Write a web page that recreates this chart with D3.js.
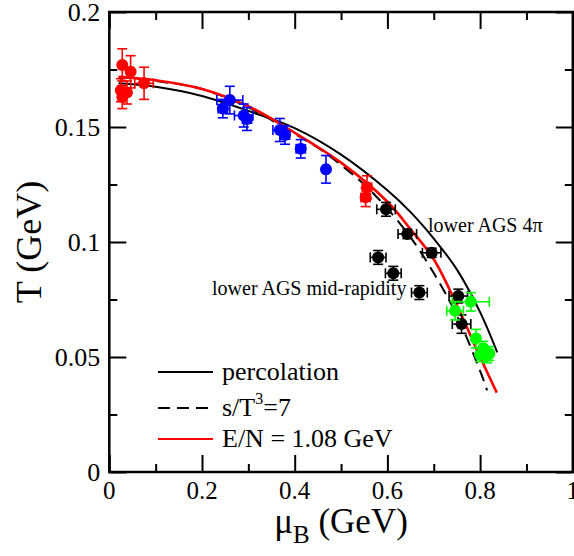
<!DOCTYPE html>
<html><head><meta charset="utf-8">
<script src="https://cdn.jsdelivr.net/npm/d3@7"></script>
<style>
body{margin:0;background:#fff;}
svg text{font-family:"Liberation Serif","Times New Roman",serif;fill:#000;}
</style></head>
<body><svg id="c" width="574" height="556"></svg>
<script>
// ---- data ----
const percolationMu = [0.02,0.1,0.2,0.3,0.4,0.5,0.6,0.65,0.7,0.75,0.8,0.837];
const percolationT  = [0.169,0.1675,0.1635,0.157,0.1495,0.138,0.1225,0.113,0.1015,0.088,0.0695,0.052];
const entropyMu = [0.02,0.1,0.2,0.3,0.4,0.45,0.5,0.55,0.6,0.65,0.7,0.75,0.8,0.815];
const entropyT  = [0.1716,0.17,0.1665,0.1585,0.147,0.141,0.1335,0.125,0.1145,0.102,0.0865,0.068,0.044,0.0355];
const energyMu = [0.02,0.1,0.2,0.3,0.4,0.5,0.6,0.65,0.7,0.75,0.8,0.836];
const energyT  = [0.1718,0.1703,0.1665,0.159,0.1475,0.1345,0.1175,0.1055,0.0925,0.0725,0.05,0.0345];

// points: [mu, T, muErr, TErr]
const redPts = [[0.028,0.177,0.005,0.007],[0.046,0.174,0.005,0.007],[0.025,0.166,0.005,0.005],
  [0.038,0.165,0.005,0.005],[0.028,0.163,0.005,0.005],[0.075,0.169,0.02,0.007],
  [0.556,0.1238,0.01,0.005],[0.553,0.1194,0.01,0.004]];
const bluePts = [[0.26,0.1617,0.028,0.006],[0.245,0.158,0.01,0.004],[0.29,0.155,0.02,0.005],
  [0.297,0.1535,0.01,0.005],[0.368,0.1487,0.015,0.005],[0.379,0.1465,0.01,0.004],
  [0.413,0.1405,0.01,0.004],[0.4675,0.1316,0.005,0.006]];
const blackPts = [[0.597,0.1142,0.02,0.003],[0.643,0.1035,0.02,0.002],[0.6955,0.0953,0.02,0.002],
  [0.753,0.0765,0.02,0.003],[0.76,0.0643,0.02,0.004],[0.58,0.0933,0.017,0.003],
  [0.6127,0.0864,0.017,0.003],[0.669,0.078,0.017,0.003]];
const greenPts = [[0.78,0.074,0.04,0.004],[0.746,0.0701,0.018,0.004],[0.791,0.058,0.005,0.004],
  [0.807,0.0538,0.005,0.003],[0.82,0.0515,0.005,0.003],[0.8,0.051,0.005,0.003],[0.815,0.0505,0.005,0.003]];

const xMajor = [0,0.2,0.4,0.6,0.8,1];
const xMinor = [0.1,0.3,0.5,0.7,0.9];
const yMajor = [0,0.05,0.1,0.15,0.2];
const yMinor = [0.025,0.075,0.125,0.175];
const xLabels = ["0","0.2","0.4","0.6","0.8","1"];
const yLabels = ["0","0.05","0.1","0.15","0.2"];

const legendNames = ["percolation","s/T","E/N = 1.08 GeV"];

// ---- layout ----
const L=109.3, R=572.8, T=12, B=472;
const x = d3.scaleLinear().domain([0,1]).range([L,R]);
const y = d3.scaleLinear().domain([0,0.2]).range([B,T]);
const svg = d3.select("#c");

// curves
const line = d3.line().x(d=>x(d[0])).y(d=>y(d[1])).curve(d3.curveCatmullRom);
const zip=(a,b)=>a.map((v,i)=>[v,b[i]]);
svg.append("path").datum(zip(percolationMu,percolationT)).attr("d",line)
  .attr("fill","none").attr("stroke","#000").attr("stroke-width",2);
svg.append("path").datum(zip(entropyMu,entropyT)).attr("d",line)
  .attr("fill","none").attr("stroke","#000").attr("stroke-width",2).attr("stroke-dasharray","12,7");
svg.append("path").datum(zip(energyMu,energyT)).attr("d",line)
  .attr("fill","none").attr("stroke","#ff0000").attr("stroke-width",2.6);

// points
function drawPts(data,color){
  const g=svg.append("g").attr("stroke",color).attr("fill",color).attr("stroke-width",1.6);
  data.forEach(d=>{
    const cx=x(d[0]), cy=y(d[1]);
    const x0=x(d[0]-d[2]), x1=x(d[0]+d[2]), y0=y(d[1]-d[3]), y1=y(d[1]+d[3]);
    const c=5;
    g.append("line").attr("x1",x0).attr("x2",x1).attr("y1",cy).attr("y2",cy);
    g.append("line").attr("x1",cx).attr("x2",cx).attr("y1",y0).attr("y2",y1);
    g.append("line").attr("x1",x0).attr("x2",x0).attr("y1",cy-c).attr("y2",cy+c);
    g.append("line").attr("x1",x1).attr("x2",x1).attr("y1",cy-c).attr("y2",cy+c);
    g.append("line").attr("x1",cx-c).attr("x2",cx+c).attr("y1",y0).attr("y2",y0);
    g.append("line").attr("x1",cx-c).attr("x2",cx+c).attr("y1",y1).attr("y2",y1);
    g.append("circle").attr("cx",cx).attr("cy",cy).attr("r",6).attr("stroke","none");
  });
}
drawPts(redPts,"#ff0000");
drawPts(bluePts,"#0000ff");
drawPts(blackPts,"#000");
drawPts(greenPts,"#00ff00");

// axes
function ax(gen,tr,vals,size){
  const g=svg.append("g").attr("transform",tr).call(gen.tickValues(vals).tickSize(size).tickFormat("").tickSizeOuter(0));
  g.selectAll("path").remove();
  g.selectAll("line").attr("stroke","#000").attr("stroke-width",2);
}
ax(d3.axisBottom(x),`translate(0,${B})`,xMajor,-17);
ax(d3.axisBottom(x),`translate(0,${B})`,xMinor,-8);
ax(d3.axisTop(x),`translate(0,${T})`,xMajor,-17);
ax(d3.axisTop(x),`translate(0,${T})`,xMinor,-8);
ax(d3.axisLeft(y),`translate(${L},0)`,yMajor,-17);
ax(d3.axisLeft(y),`translate(${L},0)`,yMinor,-8);
ax(d3.axisRight(y),`translate(${R},0)`,yMajor,-17);
ax(d3.axisRight(y),`translate(${R},0)`,yMinor,-8);
svg.append("rect").attr("x",L).attr("y",T).attr("width",R-L).attr("height",B-T)
  .attr("fill","none").attr("stroke","#000").attr("stroke-width",2.5);

// tick labels
svg.selectAll(".xl").data(xMajor).enter().append("text").attr("x",d=>x(d)).attr("y",B+27)
  .attr("text-anchor","middle").attr("font-size",25).text((d,i)=>xLabels[i]);
svg.selectAll(".yl").data(yMajor).enter().append("text").attr("x",L-9).attr("y",d=>y(d)+8.5)
  .attr("text-anchor","end").attr("font-size",26).text((d,i)=>yLabels[i]);

// axis titles
const xt=svg.append("text").attr("x",x(0.5)).attr("y",533).attr("text-anchor","middle").attr("font-size",35);
xt.append("tspan").text("μ");
xt.append("tspan").attr("font-size",25).attr("dy",10).text("B");
xt.append("tspan").attr("dy",-10).text(" (GeV)");
svg.append("text").attr("transform",`translate(41,${y(0.1)}) rotate(-90)`).attr("text-anchor","middle")
  .attr("font-size",36).text("T (GeV)");

// annotations
svg.append("text").attr("x",428).attr("y",232).attr("font-size",20).text("lower AGS 4π");
svg.append("text").attr("x",212).attr("y",295).attr("font-size",20).text("lower AGS mid-rapidity");

// legend
const lg=[{y:372,dash:null,col:"#000"},{y:408,dash:"12,7",col:"#000"},{y:439,dash:null,col:"#ff0000"}];
lg.forEach((d,i)=>{
  svg.append("line").attr("x1",158).attr("x2",213).attr("y1",d.y).attr("y2",d.y)
    .attr("stroke",d.col).attr("stroke-width",2).attr("stroke-dasharray",d.dash);
  const t=svg.append("text").attr("x",222).attr("y",d.y+8).attr("font-size",26);
  if(i===1){t.append("tspan").text(legendNames[1]);t.append("tspan").attr("font-size",16).attr("dy",-12).text("3");
    t.append("tspan").attr("dy",12).text("=7");}
  else t.text(legendNames[i]);
});
</script></body></html>
